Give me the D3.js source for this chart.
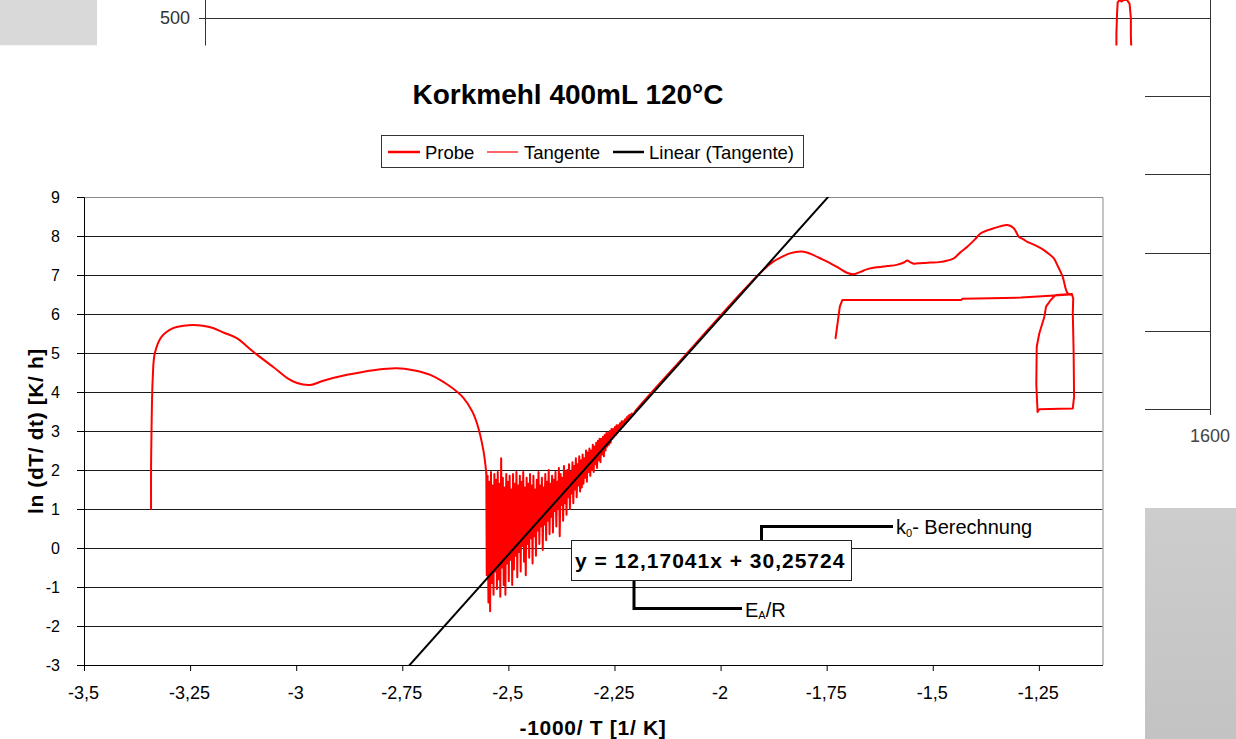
<!DOCTYPE html>
<html><head><meta charset="utf-8">
<script src="https://cdn.jsdelivr.net/npm/d3@7"></script>
<style>
html,body{margin:0;padding:0;background:#fff;}
svg{display:block;font-family:"Liberation Sans",Arial,sans-serif;}
</style></head><body>
<svg id="chart" width="1236" height="739"></svg>
<script>
// ---------- data ----------
const chartTitle = "Korkmehl 400mL 120°C";
const xTitle = "-1000/ T [1/ K]";
const yTitle = "ln (dT/ dt) [K/ h]";
const xTicks = [-3.5, -3.25, -3, -2.75, -2.5, -2.25, -2, -1.75, -1.5, -1.25];
const yTicks = [-3, -2, -1, 0, 1, 2, 3, 4, 5, 6, 7, 8, 9];
const seriesNames = ["Probe", "Tangente", "Linear (Tangente)"];

// Probe: heating phase up to the onset of the reaction
const probeStart = [
  [-3.342,1.00],[-3.342,2.00],[-3.341,2.95],[-3.338,4.36],[-3.333,5.00],[-3.317,5.42],
  [-3.290,5.64],[-3.265,5.70],[-3.243,5.72],[-3.220,5.70],[-3.196,5.64],[-3.170,5.52],
  [-3.140,5.38],[-3.101,5.03],[-3.054,4.64],[-3.020,4.35],[-2.998,4.23],[-2.967,4.18],
  [-2.936,4.29],[-2.880,4.44],[-2.818,4.56],[-2.763,4.61],[-2.724,4.56],[-2.684,4.44],
  [-2.637,4.14],[-2.606,3.85],[-2.585,3.50],[-2.574,3.20],[-2.559,2.51],[-2.552,1.92]
];
// Probe: noisy section around the tangent
const probeNoise = [
  [-2.551,-0.70],[-2.549,1.85],[-2.547,-1.40],[-2.545,1.70],[-2.543,-1.62],[-2.541,1.95],
  [-2.539,-0.90],[-2.537,1.60],[-2.535,-1.20],[-2.533,1.90],[-2.531,-0.60],[-2.529,1.75],
  [-2.527,-1.05],[-2.525,1.95],[-2.523,-0.80],[-2.521,1.65],[-2.519,-1.25],[-2.517,2.30],
  [-2.515,-0.50],[-2.513,1.80],[-2.511,-0.95],[-2.509,1.55],[-2.507,-1.20],[-2.505,1.90],
  [-2.503,-0.40],[-2.501,1.70],[-2.499,-0.85],[-2.497,1.85],[-2.495,-0.30],[-2.493,1.50],
  [-2.491,-0.95],[-2.489,1.90],[-2.487,-0.55],[-2.485,1.65],[-2.483,-0.20],[-2.481,1.95],
  [-2.479,-0.75],[-2.477,1.60],[-2.475,-0.10],[-2.473,1.85],[-2.471,-0.60],[-2.469,1.70],
  [-2.467,0.05],[-2.465,1.95],[-2.463,-0.35],[-2.461,1.55],[-2.459,-0.70],[-2.457,1.80],
  [-2.455,0.10],[-2.453,1.65],[-2.451,-0.25],[-2.449,1.90],[-2.447,0.25],[-2.445,1.60],
  [-2.443,-0.40],[-2.441,1.85],[-2.439,0.30],[-2.437,1.50],[-2.435,-0.20],[-2.433,1.75],
  [-2.431,0.45],[-2.429,1.95],[-2.427,0.10],[-2.425,1.60],[-2.423,0.55],[-2.421,1.80],
  [-2.419,-0.05],[-2.417,1.55],[-2.415,0.60],[-2.413,1.90],[-2.411,0.20],[-2.409,1.70],
  [-2.407,0.70],[-2.405,2.00],[-2.403,0.35],[-2.401,1.65],[-2.399,0.80],[-2.397,1.85],
  [-2.395,0.40],[-2.393,1.75],[-2.391,0.95],[-2.389,1.95],[-2.387,0.55],[-2.385,1.70],
  [-2.383,1.00],[-2.381,2.05],[-2.379,0.30],[-2.377,1.90],[-2.375,1.10],[-2.373,1.80],
  [-2.371,0.70],[-2.369,2.10],[-2.367,1.15],[-2.365,1.95],[-2.363,0.85],[-2.361,2.00],
  [-2.359,1.30],[-2.357,2.15],[-2.355,1.00],[-2.353,1.95],[-2.351,1.40],[-2.349,2.20],
  [-2.347,1.15],[-2.345,2.10],[-2.343,1.50],[-2.341,2.30],[-2.339,1.30],[-2.337,2.15],
  [-2.335,1.60],[-2.333,2.35],[-2.331,1.45],
  [-2.329,2.25],[-2.327,1.55],[-2.325,2.40],[-2.323,1.65],[-2.321,2.30],[-2.319,1.80],
  [-2.317,2.50],[-2.315,1.70],[-2.313,2.45],[-2.311,1.95],[-2.309,2.55],[-2.307,1.85],
  [-2.305,2.50],[-2.303,2.00],[-2.301,2.65],[-2.299,1.95],[-2.297,2.60],[-2.295,2.15],
  [-2.293,2.70],[-2.291,2.05],[-2.289,2.75],[-2.287,2.25],[-2.285,2.80],[-2.283,2.20],
  [-2.281,2.80],[-2.279,2.40],[-2.277,2.85],[-2.275,2.35],[-2.273,2.90],[-2.271,2.50],
  [-2.269,2.95],[-2.267,2.60],[-2.265,2.95],[-2.263,2.65],[-2.261,3.00],[-2.259,2.70],
  [-2.257,3.05],[-2.255,2.80],[-2.253,3.05],[-2.251,2.85],[-2.249,3.10],[-2.247,2.90],
  [-2.245,3.15],[-2.243,2.95],[-2.241,3.15],[-2.239,3.00],[-2.237,3.20],[-2.235,3.05],
  [-2.233,3.25],[-2.231,3.10],[-2.229,3.25],[-2.227,3.15],[-2.225,3.30],[-2.223,3.20],
  [-2.221,3.35],[-2.219,3.25],[-2.217,3.40],[-2.215,3.30],[-2.213,3.42],[-2.211,3.35],
  [-2.209,3.45],[-2.207,3.40]
];
// Probe: linear range and reaction peak
const probeEnd = [
  [-2.200,3.52],[-2.182,3.75],[-2.150,4.14],[-2.100,4.74],[-2.050,5.35],[-2.000,5.96],
  [-1.950,6.56],[-1.906,7.06],[-1.890,7.22],[-1.875,7.35],[-1.858,7.45],[-1.835,7.56],
  [-1.811,7.60],[-1.795,7.57],[-1.781,7.51],[-1.760,7.40],[-1.741,7.30],[-1.720,7.17],
  [-1.701,7.05],[-1.686,7.02],[-1.670,7.08],[-1.654,7.15],[-1.630,7.20],[-1.607,7.23],
  [-1.585,7.26],[-1.568,7.32],[-1.560,7.37],[-1.553,7.33],[-1.545,7.29],[-1.525,7.31],
  [-1.505,7.32],[-1.485,7.33],[-1.465,7.37],[-1.450,7.43],[-1.435,7.58],[-1.418,7.73],
  [-1.400,7.92],[-1.387,8.07],[-1.370,8.15],[-1.356,8.20],[-1.340,8.25],[-1.324,8.28],
  [-1.309,8.20],[-1.297,7.98],[-1.287,7.92],[-1.277,7.85],[-1.258,7.76],[-1.238,7.64],
  [-1.225,7.53],[-1.215,7.43],[-1.204,7.20],[-1.194,6.96],[-1.182,6.53],[-1.172,6.50]
];
// Probe: cooling loop
const probeLoop = [
  [-1.172,6.50],[-1.169,6.40],[-1.170,6.03],[-1.168,5.00],[-1.167,3.88],[-1.170,3.58],
  [-1.200,3.57],[-1.249,3.56],[-1.253,3.49],[-1.256,4.20],[-1.255,5.16],[-1.249,5.50],
  [-1.237,5.93],[-1.233,6.19],[-1.222,6.36],[-1.210,6.49],[-1.172,6.51],[-1.175,6.50],
  [-1.292,6.42],[-1.430,6.39],[-1.433,6.36],[-1.713,6.36],[-1.719,6.19],[-1.729,5.38]
];
// Tangente: points used for the linear fit
const tangente = [
  [-2.200,3.52],[-2.182,3.75],[-2.150,4.14],[-2.100,4.74],[-2.050,5.35],[-2.000,5.96],
  [-1.950,6.56],[-1.906,7.06]
];
// Linear trend of Tangente
const trendSlope = 12.17041;
const trendIntercept = 30.25724;
const trendRange = [-2.80, -1.70];

// Chart lying behind this one (only its edges show)
const bgYTicks = [0, 100, 200, 300, 400, 500];
const bgYLabels = [500];
const bgXLabels = [1600];
const bgSeries = [
  [1451,455],[1451,480],[1452,505],[1453,520],[1456,523],[1459,521],[1463,523],
  [1468,523],[1472,518],[1474,500],[1474,478],[1475,455]
];

// ---------- drawing ----------
const svg = d3.select("#chart");
const W = 1236, H = 739;
const comma = s => s.replace(/\./g, ",").replace("−", "-");
const fmtNum = d => comma(String(d));

// background chart
const bx = d3.scaleLinear().domain([0, 1600]).range([205, 1210]);
const by = d3.scaleLinear().domain([0, 500]).range([409, 18]);
const bg = svg.append("g");
bg.append("rect").attr("x", 0).attr("y", 0).attr("width", 97).attr("height", 45.5).attr("fill", "#d9d9d9");
bg.selectAll("line.bgGrid").data(bgYTicks).join("line")
  .attr("x1", bx(0)).attr("x2", bx(1600))
  .attr("y1", d => Math.round(by(d)) + 0.5).attr("y2", d => Math.round(by(d)) + 0.5)
  .attr("stroke", "#333").attr("stroke-width", 1);
bg.append("line").attr("x1", bx(0) + 0.5).attr("x2", bx(0) + 0.5).attr("y1", 0).attr("y2", by(0))
  .attr("stroke", "#333");
bg.selectAll("line.bgTickY").data(bgYLabels).join("line")
  .attr("x1", bx(0) - 6).attr("x2", bx(0)).attr("y1", d => Math.round(by(d)) + 0.5).attr("y2", d => Math.round(by(d)) + 0.5)
  .attr("stroke", "#333");
bg.selectAll("text.bgY").data(bgYLabels).join("text")
  .attr("x", bx(0) - 15).attr("y", d => by(d)).attr("dy", "0.36em")
  .attr("text-anchor", "end").attr("font-size", 18).attr("fill", "#333").text(d => d);
bg.append("line").attr("x1", bx(1600) + 0.5).attr("x2", bx(1600) + 0.5).attr("y1", 0).attr("y2", by(0) + 6)
  .attr("stroke", "#333");
bg.selectAll("text.bgX").data(bgXLabels).join("text")
  .attr("x", d => bx(d)).attr("y", 442).attr("text-anchor", "middle")
  .attr("font-size", 18).attr("fill", "#444").text(d => d);
bg.append("path").datum(bgSeries)
  .attr("d", d3.line().x(d => bx(d[0])).y(d => by(d[1])))
  .attr("fill", "none").attr("stroke", "#ff0000").attr("stroke-width", 2);

// chart area of this chart
svg.append("rect").attr("x", 0).attr("y", 45.5).attr("width", 1145).attr("height", H - 45.5).attr("fill", "#fff");
const grad = svg.append("defs").append("linearGradient").attr("id", "side").attr("x1", 0).attr("y1", 0).attr("x2", 0).attr("y2", 1);
grad.append("stop").attr("offset", 0).attr("stop-color", "#cdcdcd");
grad.append("stop").attr("offset", 1).attr("stop-color", "#c3c3c3");
svg.append("rect").attr("x", 1145).attr("y", 508).attr("width", W - 1145).attr("height", H - 508).attr("fill", "url(#side)");

// plot area
const L = 84, R = 1102.5, T = 197, B = 665;
const x = d3.scaleLinear().domain([-3.5, -1.1]).range([L, R]);
const y = d3.scaleLinear().domain([-3, 9]).range([B, T]);

svg.append("clipPath").attr("id", "plotClip").append("rect")
  .attr("x", L).attr("y", T).attr("width", R - L).attr("height", B - T);

// gridlines
svg.append("g").attr("transform", `translate(${L},0)`)
  .call(d3.axisLeft(y).tickValues(yTicks.filter(v => v > -3 && v < 9)).tickSize(-(R - L)).tickFormat(""))
  .call(g => g.select(".domain").remove())
  .call(g => g.selectAll("line").attr("stroke", "#1a1a1a"));

// plot border (top / right)
svg.append("path").attr("d", `M${L},${T + 0.5}H${R + 0.5}V${B}`)
  .attr("fill", "none").attr("stroke", "#8c8c8c");

const smooth = d3.line().curve(d3.curveCatmullRom.alpha(0.5)).x(d => x(d[0])).y(d => y(d[1]));
const line = d3.line().x(d => x(d[0])).y(d => y(d[1]));
const plot = svg.append("g").attr("clip-path", "url(#plotClip)");

// Probe drawn as one continuous series: smooth warm-up, raw noise, smooth peak, raw loop
const probeStyle = p => p.attr("fill", "none").attr("stroke", "#ff0000").attr("stroke-width", 2)
  .attr("stroke-linejoin", "round").attr("stroke-linecap", "round");
plot.append("path").datum(probeStart).attr("d", smooth).call(probeStyle);
plot.append("path").datum([probeStart[probeStart.length - 1], ...probeNoise, probeEnd[0]]).attr("d", line).call(probeStyle);
plot.append("path").datum(probeEnd).attr("d", smooth).call(probeStyle);
plot.append("path").datum(probeLoop).attr("d", line).call(probeStyle);

plot.append("path").datum(tangente).attr("d", line)
  .attr("fill", "none").attr("stroke", "#ff0000").attr("stroke-width", 1);
const trendPts = trendRange.map(v => [v, trendSlope * v + trendIntercept]);
plot.append("path").datum(trendPts).attr("d", line)
  .attr("fill", "none").attr("stroke", "#000").attr("stroke-width", 2);

// axes
const yAxis = svg.append("g").attr("transform", `translate(${L},0)`)
  .call(d3.axisLeft(y).tickValues(yTicks).tickSize(7).tickPadding(17).tickFormat(fmtNum));
yAxis.selectAll("text").attr("font-size", 16).attr("fill", "#000").attr("font-family", null);
yAxis.selectAll("line,path").attr("stroke", "#000");

const xAxis = svg.append("g").attr("transform", `translate(0,${B})`)
  .call(d3.axisBottom(x).tickValues(xTicks).tickSize(6).tickSizeOuter(0).tickPadding(15).tickFormat(fmtNum));
xAxis.selectAll("text").attr("font-size", 18).attr("fill", "#000").attr("font-family", null).attr("dx", -1);
xAxis.selectAll("line,path").attr("stroke", "#000");

// titles
svg.append("text").attr("x", 568).attr("y", 104).attr("text-anchor", "middle")
  .attr("font-size", 28).attr("font-weight", "bold").text(chartTitle);
svg.append("text").attr("x", 593).attr("y", 735).attr("text-anchor", "middle")
  .attr("font-size", 21).attr("font-weight", "bold").attr("letter-spacing", 0.7).text(xTitle);
svg.append("text").attr("transform", "translate(43,431) rotate(-90)").attr("text-anchor", "middle")
  .attr("font-size", 21).attr("font-weight", "bold").attr("letter-spacing", 0.6).text(yTitle);

// legend
const lg = svg.append("g");
lg.append("rect").attr("x", 381.5).attr("y", 135.5).attr("width", 422).attr("height", 32)
  .attr("fill", "#fff").attr("stroke", "#333");
const legendItems = [
  {name: seriesNames[0], x0: 388, x1: 420, tx: 425, color: "#ff0000", w: 2.5},
  {name: seriesNames[1], x0: 487, x1: 518, tx: 524, color: "#ff0000", w: 1.2},
  {name: seriesNames[2], x0: 613, x1: 644, tx: 649, color: "#000", w: 2.5}
];
legendItems.forEach(it => {
  lg.append("line").attr("x1", it.x0).attr("x2", it.x1).attr("y1", 152).attr("y2", 152)
    .attr("stroke", it.color).attr("stroke-width", it.w);
  lg.append("text").attr("x", it.tx).attr("y", 159).attr("font-size", 18.5).text(it.name);
});

// trendline equation label and callouts
const fmt5 = d3.format(".5f");
const eqText = `y = ${comma(fmt5(trendSlope))}x + ${comma(fmt5(trendIntercept))}`;
svg.append("path").attr("d", "M761.5,540V526.5H893").attr("fill", "none").attr("stroke", "#000").attr("stroke-width", 3);
svg.append("path").attr("d", "M634,581V608.5H742").attr("fill", "none").attr("stroke", "#000").attr("stroke-width", 3);
svg.append("rect").attr("x", 571.5).attr("y", 540.5).attr("width", 280).attr("height", 40)
  .attr("fill", "#fff").attr("stroke", "#222");
svg.append("text").attr("x", 575).attr("y", 568).attr("font-size", 21).attr("font-weight", "bold")
  .attr("letter-spacing", 1).text(eqText);

const k0 = svg.append("text").attr("x", 896).attr("y", 534).attr("font-size", 20);
k0.append("tspan").text("k");
k0.append("tspan").attr("font-size", 11).attr("dy", 3).text("0");
k0.append("tspan").attr("dy", -3).text("- Berechnung");

const ea = svg.append("text").attr("x", 745).attr("y", 617).attr("font-size", 20);
ea.append("tspan").text("E");
ea.append("tspan").attr("font-size", 11).attr("dy", 2).text("A");
ea.append("tspan").attr("dy", -2).text("/R");
</script>
</body></html>
